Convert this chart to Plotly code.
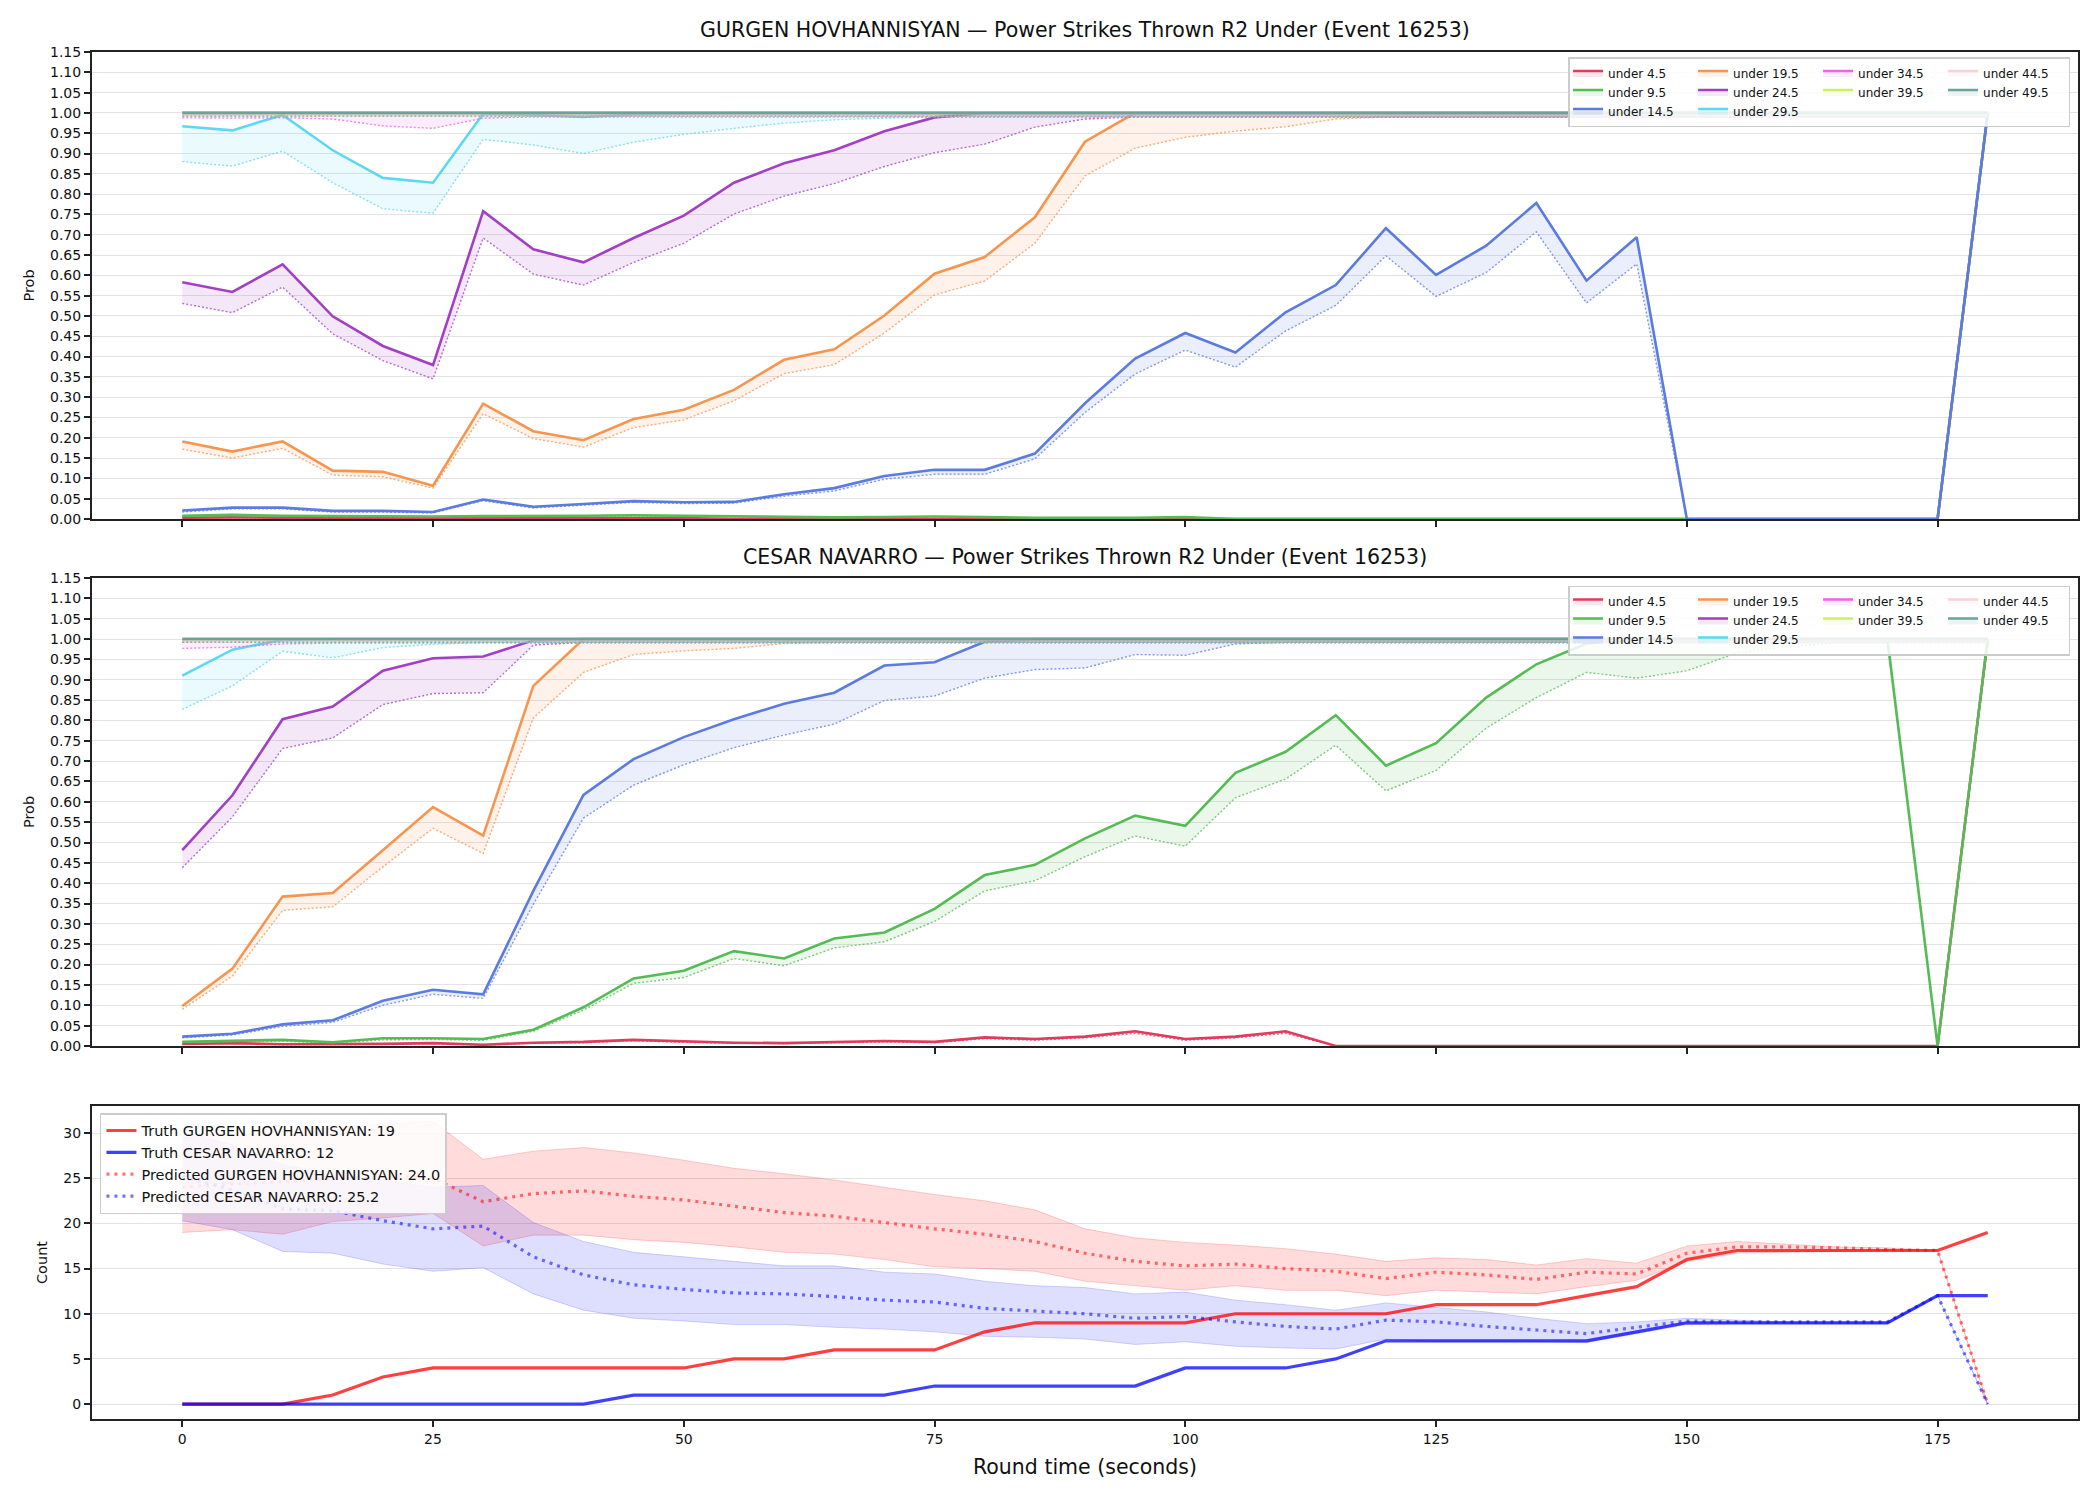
import plotly.graph_objects as go

# ---------------- data ----------------
t = [0, 5, 10, 15, 20, 25, 30, 35, 40, 45,
     50, 55, 60, 65, 70, 75, 80, 85, 90, 95,
     100, 105, 110, 115, 120, 125, 130, 135, 140, 145,
     150, 155, 160, 165, 170, 175, 180]

labels = ["under 4.5", "under 9.5", "under 14.5", "under 19.5", "under 24.5",
          "under 29.5", "under 34.5", "under 39.5", "under 44.5", "under 49.5"]
colors = ["#e23a5c", "#55bb55", "#5b7be0", "#f7954f", "#a23fc4",
          "#5dd8f3", "#f060e8", "#cdf060", "#fbcfdc", "#6aa39a"]

# GURGEN HOVHANNISYAN: solid = market line, dotted = model line
g_u45 = [0.003, 0.004, 0.003, 0.002, 0.002, 0.002, 0.002, 0.002, 0.002, 0.003,
         0.002, 0, 0, 0, 0, 0, 0, 0, 0, 0,
         0, 0, 0, 0, 0, 0, 0, 0, 0, 0,
         0, 0, 0, 0, 0, 0, 1.0]
g_u45_m = [0.002, 0.003, 0.002, 0.001, 0.001, 0.001, 0.001, 0.001, 0.001, 0.002,
           0.001, 0, 0, 0, 0, 0, 0, 0, 0, 0,
           0, 0, 0, 0, 0, 0, 0, 0, 0, 0,
           0, 0, 0, 0, 0, 0, 1.0]
g_u95 = [0.008, 0.010, 0.008, 0.007, 0.006, 0.006, 0.007, 0.007, 0.008, 0.009,
         0.008, 0.006, 0.005, 0.004, 0.005, 0.006, 0.005, 0.003, 0.003, 0.003,
         0.005, 0, 0, 0, 0, 0, 0, 0, 0, 0,
         0, 0, 0, 0, 0, 0, 1.0]
g_u95_m = [0.006, 0.008, 0.006, 0.005, 0.005, 0.005, 0.005, 0.006, 0.006, 0.007,
           0.006, 0.005, 0.004, 0.003, 0.004, 0.005, 0.004, 0.002, 0.002, 0.002,
           0.004, 0, 0, 0, 0, 0, 0, 0, 0, 0,
           0, 0, 0, 0, 0, 0, 1.0]
g_u145 = [0.021, 0.028, 0.028, 0.020, 0.020, 0.017, 0.048, 0.030, 0.037, 0.044,
          0.041, 0.042, 0.061, 0.076, 0.106, 0.121, 0.121, 0.161, 0.285, 0.395,
          0.458, 0.410, 0.509, 0.576, 0.716, 0.601, 0.673, 0.778, 0.587, 0.694,
          0, 0, 0, 0, 0, 0, 1.0]
g_u145_m = [0.017, 0.025, 0.025, 0.017, 0.017, 0.015, 0.045, 0.027, 0.034, 0.041,
            0.038, 0.039, 0.056, 0.069, 0.098, 0.110, 0.110, 0.148, 0.262, 0.357,
            0.416, 0.374, 0.463, 0.526, 0.648, 0.548, 0.607, 0.707, 0.532, 0.628,
            0, 0, 0, 0, 0, 0, 1.0]
g_u195 = [0.191, 0.166, 0.191, 0.119, 0.116, 0.082, 0.284, 0.216, 0.194, 0.246,
          0.269, 0.318, 0.392, 0.418, 0.501, 0.604, 0.645, 0.743, 0.929, 1.0,
          1.0, 1.0, 1.0, 1.0, 1.0, 1.0, 1.0, 1.0, 1.0, 1.0,
          1.0, 1.0, 1.0, 1.0, 1.0, 1.0, 1.0]
g_u195_m = [0.172, 0.150, 0.174, 0.108, 0.104, 0.076, 0.259, 0.198, 0.177, 0.225,
            0.244, 0.291, 0.358, 0.380, 0.458, 0.552, 0.586, 0.679, 0.845, 0.913,
            0.940, 0.955, 0.966, 0.985, 0.99, 0.99, 0.99, 0.99, 0.99, 0.99,
            0.99, 0.99, 0.99, 0.99, 0.99, 0.99, 0.99]
g_u245 = [0.583, 0.559, 0.627, 0.499, 0.426, 0.379, 0.758, 0.664, 0.632, 0.692,
          0.747, 0.828, 0.876, 0.908, 0.955, 0.989, 1.0, 1.0, 1.0, 1.0,
          1.0, 1.0, 1.0, 1.0, 1.0, 1.0, 1.0, 1.0, 1.0, 1.0,
          1.0, 1.0, 1.0, 1.0, 1.0, 1.0, 1.0]
g_u245_m = [0.531, 0.508, 0.571, 0.456, 0.390, 0.345, 0.692, 0.603, 0.576, 0.632,
            0.679, 0.751, 0.795, 0.826, 0.868, 0.902, 0.923, 0.965, 0.985, 0.99,
            0.99, 0.99, 0.99, 0.99, 0.99, 0.99, 0.99, 0.99, 0.99, 0.99,
            0.99, 0.99, 0.99, 0.99, 0.99, 0.99, 0.99]
g_u295 = [0.967, 0.957, 0.995, 0.908, 0.840, 0.828, 0.998, 0.995, 0.990, 0.996,
          0.998, 1.0, 1.0, 1.0, 1.0, 1.0, 1.0, 1.0, 1.0, 1.0,
          1.0, 1.0, 1.0, 1.0, 1.0, 1.0, 1.0, 1.0, 1.0, 1.0,
          1.0, 1.0, 1.0, 1.0, 1.0, 1.0, 1.0]
g_u295_m = [0.880, 0.869, 0.906, 0.828, 0.764, 0.753, 0.935, 0.921, 0.900, 0.928,
            0.947, 0.962, 0.975, 0.983, 0.987, 0.99, 0.99, 0.99, 0.99, 0.99,
            0.99, 0.99, 0.99, 0.99, 0.99, 0.99, 0.99, 0.99, 0.99, 0.99,
            0.99, 0.99, 0.99, 0.99, 0.99, 0.99, 0.99]
g_u345 = [1.0, 1.0, 1.0, 1.0, 1.0, 1.0, 1.0, 1.0, 1.0, 1.0,
          1.0, 1.0, 1.0, 1.0, 1.0, 1.0, 1.0, 1.0, 1.0, 1.0,
          1.0, 1.0, 1.0, 1.0, 1.0, 1.0, 1.0, 1.0, 1.0, 1.0,
          1.0, 1.0, 1.0, 1.0, 1.0, 1.0, 1.0]
g_u345_m = [0.988, 0.987, 0.988, 0.985, 0.968, 0.962, 0.987, 0.99, 0.99, 0.99,
            0.99, 0.99, 0.99, 0.99, 0.99, 0.99, 0.99, 0.99, 0.99, 0.99,
            0.99, 0.99, 0.99, 0.99, 0.99, 0.99, 0.99, 0.99, 0.99, 0.99,
            0.99, 0.99, 0.99, 0.99, 0.99, 0.99, 0.99]
g_u395 = [1.0, 1.0, 1.0, 1.0, 1.0, 1.0, 1.0, 1.0, 1.0, 1.0,
          1.0, 1.0, 1.0, 1.0, 1.0, 1.0, 1.0, 1.0, 1.0, 1.0,
          1.0, 1.0, 1.0, 1.0, 1.0, 1.0, 1.0, 1.0, 1.0, 1.0,
          1.0, 1.0, 1.0, 1.0, 1.0, 1.0, 1.0]
g_u395_m = [0.992, 0.992, 0.992, 0.992, 0.992, 0.992, 0.992, 0.992, 0.992, 0.992,
            0.992, 0.992, 0.992, 0.992, 0.992, 0.992, 0.992, 0.992, 0.992, 0.992,
            0.992, 0.992, 0.992, 0.992, 0.992, 0.992, 0.992, 0.992, 0.992, 0.992,
            0.992, 0.992, 0.992, 0.992, 0.992, 0.992, 0.992]
g_u445 = [1.0, 1.0, 1.0, 1.0, 1.0, 1.0, 1.0, 1.0, 1.0, 1.0,
          1.0, 1.0, 1.0, 1.0, 1.0, 1.0, 1.0, 1.0, 1.0, 1.0,
          1.0, 1.0, 1.0, 1.0, 1.0, 1.0, 1.0, 1.0, 1.0, 1.0,
          1.0, 1.0, 1.0, 1.0, 1.0, 1.0, 1.0]
g_u445_m = [0.992, 0.992, 0.992, 0.992, 0.992, 0.992, 0.992, 0.992, 0.992, 0.992,
            0.992, 0.992, 0.992, 0.992, 0.992, 0.992, 0.992, 0.992, 0.992, 0.992,
            0.992, 0.992, 0.992, 0.992, 0.992, 0.992, 0.992, 0.992, 0.992, 0.992,
            0.992, 0.992, 0.992, 0.992, 0.992, 0.992, 0.992]
g_u495 = [1.0, 1.0, 1.0, 1.0, 1.0, 1.0, 1.0, 1.0, 1.0, 1.0,
          1.0, 1.0, 1.0, 1.0, 1.0, 1.0, 1.0, 1.0, 1.0, 1.0,
          1.0, 1.0, 1.0, 1.0, 1.0, 1.0, 1.0, 1.0, 1.0, 1.0,
          1.0, 1.0, 1.0, 1.0, 1.0, 1.0, 1.0]
g_u495_m = [0.992, 0.992, 0.992, 0.992, 0.992, 0.992, 0.992, 0.992, 0.992, 0.992,
            0.992, 0.992, 0.992, 0.992, 0.992, 0.992, 0.992, 0.992, 0.992, 0.992,
            0.992, 0.992, 0.992, 0.992, 0.992, 0.992, 0.992, 0.992, 0.992, 0.992,
            0.992, 0.992, 0.992, 0.992, 0.992, 0.992, 0.992]

# CESAR NAVARRO
c_u45 = [0.005, 0.007, 0.004, 0.004, 0.005, 0.007, 0.003, 0.008, 0.010, 0.015,
         0.011, 0.008, 0.007, 0.009, 0.012, 0.010, 0.021, 0.017, 0.023, 0.036,
         0.017, 0.023, 0.036, 0, 0, 0, 0, 0, 0, 0,
         0, 0, 0, 0, 0, 0, 1.0]
c_u45_m = [0.004, 0.006, 0.003, 0.003, 0.004, 0.006, 0.002, 0.007, 0.008, 0.013,
           0.009, 0.007, 0.006, 0.008, 0.010, 0.008, 0.018, 0.014, 0.020, 0.031,
           0.014, 0.020, 0.031, 0, 0, 0, 0, 0, 0, 0,
           0, 0, 0, 0, 0, 0, 0.99]
c_u95 = [0.010, 0.013, 0.015, 0.009, 0.019, 0.019, 0.017, 0.040, 0.095, 0.166,
         0.185, 0.233, 0.215, 0.264, 0.279, 0.337, 0.420, 0.445, 0.510, 0.566,
         0.541, 0.671, 0.723, 0.813, 0.689, 0.744, 0.856, 0.938, 0.989, 1.0,
         1.0, 1.0, 1.0, 1.0, 1.0, 0, 1.0]
c_u95_m = [0.008, 0.010, 0.012, 0.007, 0.015, 0.016, 0.014, 0.036, 0.088, 0.154,
           0.168, 0.215, 0.197, 0.241, 0.256, 0.306, 0.381, 0.406, 0.465, 0.516,
           0.491, 0.610, 0.656, 0.739, 0.627, 0.677, 0.781, 0.856, 0.918, 0.904,
           0.922, 0.966, 0.982, 0.99, 0.99, 0, 0.99]
c_u145 = [0.023, 0.030, 0.053, 0.063, 0.111, 0.138, 0.127, 0.381, 0.617, 0.705,
          0.759, 0.803, 0.841, 0.868, 0.935, 0.943, 0.993, 1.0, 1.0, 1.0,
          1.0, 1.0, 1.0, 1.0, 1.0, 1.0, 1.0, 1.0, 1.0, 1.0,
          1.0, 1.0, 1.0, 1.0, 1.0, 1.0, 1.0]
c_u145_m = [0.020, 0.027, 0.048, 0.058, 0.100, 0.127, 0.117, 0.348, 0.560, 0.641,
            0.691, 0.733, 0.764, 0.791, 0.849, 0.860, 0.904, 0.925, 0.929, 0.962,
            0.960, 0.988, 0.992, 0.992, 0.992, 0.992, 0.992, 0.992, 0.992, 0.992,
            0.992, 0.992, 0.992, 0.992, 0.992, 0.992, 0.992]
c_u195 = [0.098, 0.190, 0.367, 0.376, 0.481, 0.587, 0.517, 0.885, 1.0, 1.0,
          1.0, 1.0, 1.0, 1.0, 1.0, 1.0, 1.0, 1.0, 1.0, 1.0,
          1.0, 1.0, 1.0, 1.0, 1.0, 1.0, 1.0, 1.0, 1.0, 1.0,
          1.0, 1.0, 1.0, 1.0, 1.0, 1.0, 1.0]
c_u195_m = [0.090, 0.172, 0.333, 0.342, 0.440, 0.535, 0.473, 0.806, 0.918, 0.962,
            0.971, 0.977, 0.989, 0.992, 0.992, 0.992, 0.992, 0.992, 0.992, 0.992,
            0.992, 0.992, 0.992, 0.992, 0.992, 0.992, 0.992, 0.992, 0.992, 0.992,
            0.992, 0.992, 0.992, 0.992, 0.992, 0.992, 0.992]
c_u245 = [0.481, 0.616, 0.803, 0.834, 0.922, 0.953, 0.957, 0.997, 1.0, 1.0,
          1.0, 1.0, 1.0, 1.0, 1.0, 1.0, 1.0, 1.0, 1.0, 1.0,
          1.0, 1.0, 1.0, 1.0, 1.0, 1.0, 1.0, 1.0, 1.0, 1.0,
          1.0, 1.0, 1.0, 1.0, 1.0, 1.0, 1.0]
c_u245_m = [0.438, 0.563, 0.731, 0.757, 0.839, 0.866, 0.868, 0.985, 0.992, 0.992,
            0.992, 0.992, 0.992, 0.992, 0.992, 0.992, 0.992, 0.992, 0.992, 0.992,
            0.992, 0.992, 0.992, 0.992, 0.992, 0.992, 0.992, 0.992, 0.992, 0.992,
            0.992, 0.992, 0.992, 0.992, 0.992, 0.992, 0.992]
c_u295 = [0.910, 0.974, 0.998, 1.0, 1.0, 1.0, 1.0, 1.0, 1.0, 1.0,
          1.0, 1.0, 1.0, 1.0, 1.0, 1.0, 1.0, 1.0, 1.0, 1.0,
          1.0, 1.0, 1.0, 1.0, 1.0, 1.0, 1.0, 1.0, 1.0, 1.0,
          1.0, 1.0, 1.0, 1.0, 1.0, 1.0, 1.0]
c_u295_m = [0.827, 0.885, 0.970, 0.954, 0.979, 0.987, 0.992, 0.992, 0.992, 0.992,
            0.992, 0.992, 0.992, 0.992, 0.992, 0.992, 0.992, 0.992, 0.992, 0.992,
            0.992, 0.992, 0.992, 0.992, 0.992, 0.992, 0.992, 0.992, 0.992, 0.992,
            0.992, 0.992, 0.992, 0.992, 0.992, 0.992, 0.992]
c_u345 = [1.0, 1.0, 1.0, 1.0, 1.0, 1.0, 1.0, 1.0, 1.0, 1.0,
          1.0, 1.0, 1.0, 1.0, 1.0, 1.0, 1.0, 1.0, 1.0, 1.0,
          1.0, 1.0, 1.0, 1.0, 1.0, 1.0, 1.0, 1.0, 1.0, 1.0,
          1.0, 1.0, 1.0, 1.0, 1.0, 1.0, 1.0]
c_u345_m = [0.977, 0.980, 0.988, 0.99, 0.99, 0.99, 0.99, 0.99, 0.99, 0.99,
            0.99, 0.99, 0.99, 0.99, 0.99, 0.99, 0.99, 0.99, 0.99, 0.99,
            0.99, 0.99, 0.99, 0.99, 0.99, 0.99, 0.99, 0.99, 0.99, 0.99,
            0.99, 0.99, 0.99, 0.99, 0.99, 0.99, 0.99]
c_u395 = [1.0, 1.0, 1.0, 1.0, 1.0, 1.0, 1.0, 1.0, 1.0, 1.0,
          1.0, 1.0, 1.0, 1.0, 1.0, 1.0, 1.0, 1.0, 1.0, 1.0,
          1.0, 1.0, 1.0, 1.0, 1.0, 1.0, 1.0, 1.0, 1.0, 1.0,
          1.0, 1.0, 1.0, 1.0, 1.0, 1.0, 1.0]
c_u395_m = [0.992, 0.992, 0.992, 0.992, 0.992, 0.992, 0.992, 0.992, 0.992, 0.992,
            0.992, 0.992, 0.992, 0.992, 0.992, 0.992, 0.992, 0.992, 0.992, 0.992,
            0.992, 0.992, 0.992, 0.992, 0.992, 0.992, 0.992, 0.992, 0.992, 0.992,
            0.992, 0.992, 0.992, 0.992, 0.992, 0.992, 0.992]
c_u445 = [1.0, 1.0, 1.0, 1.0, 1.0, 1.0, 1.0, 1.0, 1.0, 1.0,
          1.0, 1.0, 1.0, 1.0, 1.0, 1.0, 1.0, 1.0, 1.0, 1.0,
          1.0, 1.0, 1.0, 1.0, 1.0, 1.0, 1.0, 1.0, 1.0, 1.0,
          1.0, 1.0, 1.0, 1.0, 1.0, 1.0, 1.0]
c_u445_m = [0.992, 0.992, 0.992, 0.992, 0.992, 0.992, 0.992, 0.992, 0.992, 0.992,
            0.992, 0.992, 0.992, 0.992, 0.992, 0.992, 0.992, 0.992, 0.992, 0.992,
            0.992, 0.992, 0.992, 0.992, 0.992, 0.992, 0.992, 0.992, 0.992, 0.992,
            0.992, 0.992, 0.992, 0.992, 0.992, 0.992, 0.992]
c_u495 = [1.0, 1.0, 1.0, 1.0, 1.0, 1.0, 1.0, 1.0, 1.0, 1.0,
          1.0, 1.0, 1.0, 1.0, 1.0, 1.0, 1.0, 1.0, 1.0, 1.0,
          1.0, 1.0, 1.0, 1.0, 1.0, 1.0, 1.0, 1.0, 1.0, 1.0,
          1.0, 1.0, 1.0, 1.0, 1.0, 1.0, 1.0]
c_u495_m = [0.992, 0.992, 0.992, 0.992, 0.992, 0.992, 0.992, 0.992, 0.992, 0.992,
            0.992, 0.992, 0.992, 0.992, 0.992, 0.992, 0.992, 0.992, 0.992, 0.992,
            0.992, 0.992, 0.992, 0.992, 0.992, 0.992, 0.992, 0.992, 0.992, 0.992,
            0.992, 0.992, 0.992, 0.992, 0.992, 0.992, 0.992]

# Counts panel
truth_g = [0, 0, 0, 1, 3, 4, 4, 4, 4, 4,
           4, 5, 5, 6, 6, 6, 8, 9, 9, 9,
           9, 10, 10, 10, 10, 11, 11, 11, 12, 13,
           16, 17, 17, 17, 17, 17, 19]
truth_c = [0, 0, 0, 0, 0, 0, 0, 0, 0, 1,
           1, 1, 1, 1, 1, 2, 2, 2, 2, 2,
           4, 4, 4, 5, 7, 7, 7, 7, 7, 8,
           9, 9, 9, 9, 9, 12, 12]
pred_g = [24.0, 24.4, 24.6, 25.0, 25.3, 25.0, 22.4, 23.3, 23.6, 23.0,
          22.6, 21.9, 21.2, 20.8, 20.1, 19.4, 18.8, 18.0, 16.7, 15.8,
          15.3, 15.5, 15.0, 14.7, 13.9, 14.6, 14.3, 13.8, 14.6, 14.4,
          16.7, 17.4, 17.4, 17.3, 17.1, 17.0, 0]
pred_g_hi = [29.5, 29.8, 30.2, 30.6, 31.0, 31.3, 27.1, 28.0, 28.4, 27.8,
             27.0, 26.1, 25.5, 24.8, 24.0, 23.2, 22.5, 21.5, 19.4, 18.4,
             17.9, 17.6, 17.2, 16.6, 15.8, 16.2, 16.0, 15.4, 16.1, 15.6,
             17.5, 18.0, 17.7, 17.4, 17.3, 17.0, 0]
pred_g_lo = [19.0, 19.3, 18.8, 20.2, 20.6, 21.1, 17.5, 18.7, 18.7, 18.2,
             17.9, 17.4, 16.8, 16.6, 16.0, 15.2, 15.0, 14.7, 13.6, 13.1,
             12.6, 13.1, 12.6, 12.6, 12.0, 12.6, 12.4, 12.2, 13.0, 13.7,
             15.8, 16.7, 16.8, 16.9, 17.0, 17.0, 0]
pred_c = [25.2, 23.7, 21.6, 21.4, 20.3, 19.4, 19.7, 16.3, 14.3, 13.2,
          12.7, 12.3, 12.2, 11.9, 11.5, 11.3, 10.6, 10.3, 10.0, 9.5,
          9.7, 9.1, 8.6, 8.3, 9.3, 9.1, 8.6, 8.2, 7.8, 8.5,
          9.2, 9.1, 9.1, 9.1, 9.1, 12.0, 0]
pred_c_hi = [30.1, 28.7, 26.5, 25.5, 24.8, 24.0, 24.2, 20.1, 18.0, 16.8,
             16.3, 15.8, 15.3, 15.3, 14.6, 14.4, 13.6, 13.1, 12.9, 12.2,
             12.4, 11.5, 11.0, 10.4, 11.2, 10.7, 10.2, 9.5, 8.9, 9.1,
             9.5, 9.3, 9.1, 9.1, 9.1, 12.0, 0]
pred_c_lo = [20.3, 19.3, 16.9, 16.7, 15.5, 14.7, 15.1, 12.2, 10.4, 9.5,
             9.2, 8.8, 8.8, 8.5, 8.3, 8.0, 7.5, 7.4, 7.2, 6.6,
             6.9, 6.4, 6.2, 6.1, 7.2, 6.9, 6.9, 6.9, 6.8, 7.8,
             8.8, 8.9, 8.9, 8.9, 8.9, 12.0, 0]

x_ticks = [0, 25, 50, 75, 100, 125, 150, 175]
prob_ticks = [0.00, 0.05, 0.10, 0.15, 0.20, 0.25, 0.30, 0.35, 0.40, 0.45, 0.50, 0.55,
              0.60, 0.65, 0.70, 0.75, 0.80, 0.85, 0.90, 0.95, 1.00, 1.05, 1.10, 1.15]
count_ticks = [0, 5, 10, 15, 20, 25, 30]

fighter_g = "GURGEN HOVHANNISYAN"
fighter_c = "CESAR NAVARRO"
market = "Power Strikes Thrown R2 Under (Event 16253)"

g_series = [(g_u45, g_u45_m), (g_u95, g_u95_m), (g_u145, g_u145_m), (g_u195, g_u195_m),
            (g_u245, g_u245_m), (g_u295, g_u295_m), (g_u345, g_u345_m), (g_u395, g_u395_m),
            (g_u445, g_u445_m), (g_u495, g_u495_m)]
c_series = [(c_u45, c_u45_m), (c_u95, c_u95_m), (c_u145, c_u145_m), (c_u195, c_u195_m),
            (c_u245, c_u245_m), (c_u295, c_u295_m), (c_u345, c_u345_m), (c_u395, c_u395_m),
            (c_u445, c_u445_m), (c_u495, c_u495_m)]

for arr in [t, truth_g, truth_c, pred_g, pred_g_hi, pred_g_lo, pred_c, pred_c_hi, pred_c_lo]:
    assert len(arr) == 37
for s, m in g_series + c_series:
    assert len(s) == 37 and len(m) == 37

# ---------------- figure ----------------
FONT = "DejaVu Sans"


def rgba(hexc, a):
    h = hexc.lstrip("#")
    return "rgba(%d,%d,%d,%s)" % (int(h[0:2], 16), int(h[2:4], 16), int(h[4:6], 16), a)


# column groups of the 4-column legend
col_of = [0, 0, 0, 1, 1, 1, 2, 2, 3, 3]

fig = go.Figure()


def add_prob_panel(series, xa, ya, leg, prefix):
    for i, (solid, model) in enumerate(series):
        grp = "%s%d" % (prefix, col_of[i])
        fig.add_trace(go.Scatter(
            x=t, y=model, xaxis=xa, yaxis=ya, mode="lines",
            line=dict(color=rgba(colors[i], 0.75), width=1.4, dash="2px,2px"),
            showlegend=False, legendgroup=grp, legend=leg, hoverinfo="skip"))
        fig.add_trace(go.Scatter(
            x=t, y=solid, xaxis=xa, yaxis=ya, mode="lines", name=labels[i],
            line=dict(color=colors[i], width=2.6),
            fill="tonexty", fillcolor=rgba(colors[i], 0.12),
            legendgroup=grp, legend=leg))


add_prob_panel(g_series, "x", "y", "legend", "g")
add_prob_panel(c_series, "x2", "y2", "legend2", "c")

# bottom bands
fig.add_trace(go.Scatter(x=t, y=pred_g_lo, xaxis="x3", yaxis="y3", mode="lines",
                         line=dict(color="rgba(255,0,0,0.18)", width=1),
                         showlegend=False, hoverinfo="skip", legend="legend3"))
fig.add_trace(go.Scatter(x=t, y=pred_g_hi, xaxis="x3", yaxis="y3", mode="lines",
                         line=dict(color="rgba(255,0,0,0.18)", width=1),
                         fill="tonexty", fillcolor="rgba(255,0,0,0.14)",
                         showlegend=False, hoverinfo="skip", legend="legend3"))
fig.add_trace(go.Scatter(x=t, y=pred_c_lo, xaxis="x3", yaxis="y3", mode="lines",
                         line=dict(color="rgba(0,0,255,0.16)", width=1),
                         showlegend=False, hoverinfo="skip", legend="legend3"))
fig.add_trace(go.Scatter(x=t, y=pred_c_hi, xaxis="x3", yaxis="y3", mode="lines",
                         line=dict(color="rgba(0,0,255,0.16)", width=1),
                         fill="tonexty", fillcolor="rgba(0,0,255,0.13)",
                         showlegend=False, hoverinfo="skip", legend="legend3"))

fig.add_trace(go.Scatter(x=t, y=truth_g, xaxis="x3", yaxis="y3", mode="lines",
                         name="Truth %s: %d" % (fighter_g, truth_g[-1]),
                         line=dict(color="rgba(255,0,0,0.75)", width=3.2), legend="legend3"))
fig.add_trace(go.Scatter(x=t, y=truth_c, xaxis="x3", yaxis="y3", mode="lines",
                         name="Truth %s: %d" % (fighter_c, truth_c[-1]),
                         line=dict(color="rgba(0,0,255,0.75)", width=3.2), legend="legend3"))
fig.add_trace(go.Scatter(x=t, y=pred_g, xaxis="x3", yaxis="y3", mode="lines",
                         name="Predicted %s: %.1f" % (fighter_g, pred_g[0]),
                         line=dict(color="rgba(255,0,0,0.55)", width=3.2, dash="3px,5px"),
                         legend="legend3"))
fig.add_trace(go.Scatter(x=t, y=pred_c, xaxis="x3", yaxis="y3", mode="lines",
                         name="Predicted %s: %.1f" % (fighter_c, pred_c[0]),
                         line=dict(color="rgba(0,0,255,0.55)", width=3.2, dash="3px,5px"),
                         legend="legend3"))

D_TOP = [0.6584, 1.0]
D_MID = [0.2729, 0.6152]
D_BOT = [0.0, 0.229]

AX = dict(showline=True, linecolor="#222222", linewidth=2, mirror=True,
          ticks="outside", ticklen=6, tickwidth=1.5, tickcolor="#222222",
          tickfont=dict(family=FONT, size=14, color="#111111"), zeroline=False)
XAX = dict(AX, range=[-9, 189], tickmode="array", tickvals=x_ticks, showgrid=False)
YPROB = dict(AX, range=[0, 1.15], tickmode="array", tickvals=prob_ticks, tickformat=".2f",
             showgrid=True, gridcolor="#e3e3e3", gridwidth=1,
             title=dict(text="Prob", font=dict(family=FONT, size=14.5, color="#111111"), standoff=12))

LEG = dict(orientation="h", traceorder="grouped", xanchor="right", yanchor="top",
           bgcolor="rgba(255,255,255,0.85)", bordercolor="#cccccc", borderwidth=1.5,
           font=dict(family=FONT, size=12, color="#111111"), tracegroupgap=4, itemwidth=30,
           entrywidth=80, entrywidthmode="pixels")

fig.update_layout(
    width=2100, height=1500,
    margin=dict(l=92, r=22, t=52, b=81),
    paper_bgcolor="white", plot_bgcolor="white",
    font=dict(family=FONT, color="#111111"),
    xaxis=dict(XAX, domain=[0, 1], anchor="y", showticklabels=False),
    yaxis=dict(YPROB, domain=D_TOP, anchor="x"),
    xaxis2=dict(XAX, domain=[0, 1], anchor="y2", matches="x", showticklabels=False),
    yaxis2=dict(YPROB, domain=D_MID, anchor="x2"),
    xaxis3=dict(XAX, domain=[0, 1], anchor="y3", matches="x",
                title=dict(text="Round time (seconds)", font=dict(family=FONT, size=20.5, color="#111111"),
                           standoff=14)),
    yaxis3=dict(AX, domain=D_BOT, anchor="x3", range=[-1.65, 33.0], tickmode="array",
                tickvals=count_ticks, showgrid=True, gridcolor="#e3e3e3", gridwidth=1,
                title=dict(text="Count", font=dict(family=FONT, size=14.5, color="#111111"), standoff=12)),
    legend=dict(LEG, x=0.996, y=0.9963),
    legend2=dict(LEG, x=0.996, y=0.6097),
    legend3=dict(x=0.004, y=0.2238, xanchor="left", yanchor="top", orientation="v",
                 traceorder="normal",
                 bgcolor="rgba(255,255,255,0.85)", bordercolor="#cccccc", borderwidth=1.5,
                 font=dict(family=FONT, size=14.5, color="#111111"), itemwidth=30),
    showlegend=True,
    annotations=[
        dict(text="%s — %s" % (fighter_g, market), xref="paper", yref="paper",
             x=0.5, y=D_TOP[1], xanchor="center", yanchor="bottom", yshift=8, showarrow=False,
             font=dict(family=FONT, size=20.5, color="#111111")),
        dict(text="%s — %s" % (fighter_c, market), xref="paper", yref="paper",
             x=0.5, y=D_MID[1], xanchor="center", yanchor="bottom", yshift=7, showarrow=False,
             font=dict(family=FONT, size=20.5, color="#111111")),
    ],
)

fig.write_html("out.html")
